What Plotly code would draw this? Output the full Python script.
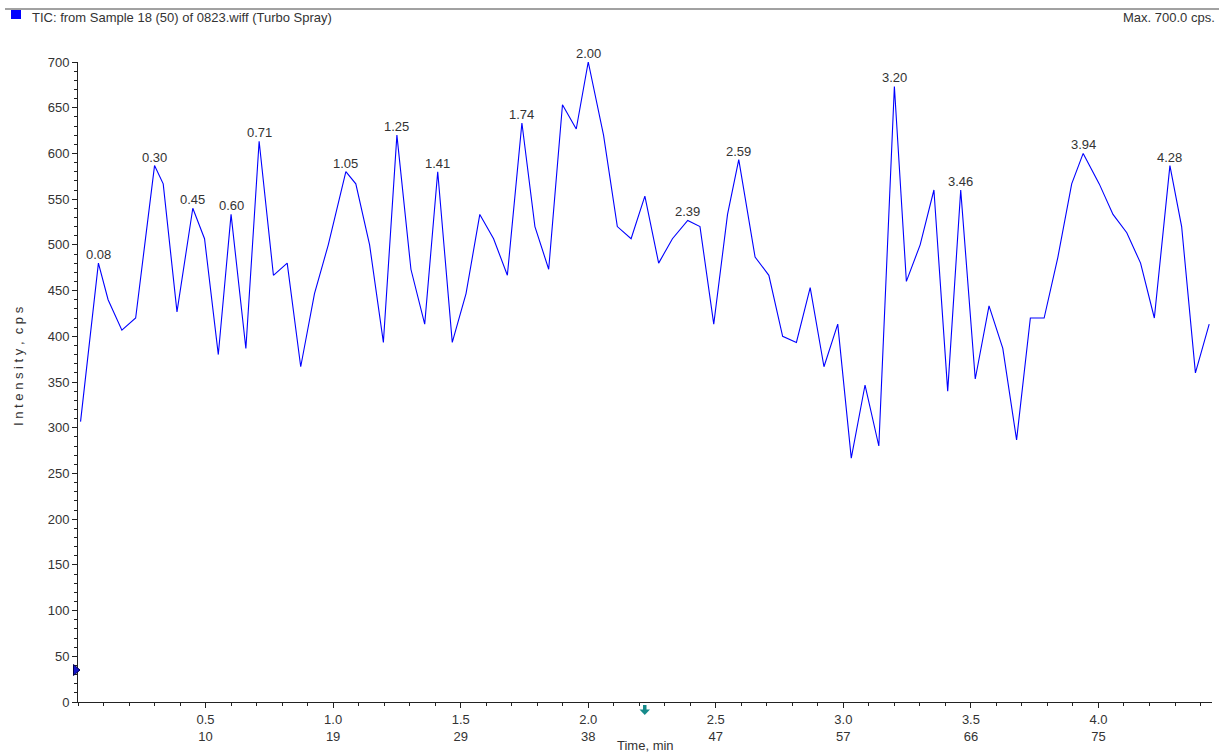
import plotly.graph_objects as go

# Total ion chromatogram (TIC), Sample 18 (50) of 0823.wiff, Turbo Spray
times_min = [
    0.010, 0.080, 0.118, 0.172, 0.226, 0.300, 0.334, 0.388, 0.450, 0.496,
    0.550, 0.600, 0.658, 0.710, 0.766, 0.820, 0.873, 0.927, 0.981, 1.050,
    1.089, 1.143, 1.197, 1.250, 1.305, 1.359, 1.410, 1.467, 1.521, 1.575,
    1.629, 1.683, 1.740, 1.791, 1.845, 1.899, 1.953, 2.000, 2.060, 2.114,
    2.168, 2.222, 2.276, 2.330, 2.390, 2.438, 2.492, 2.546, 2.590, 2.654,
    2.708, 2.762, 2.816, 2.870, 2.924, 2.978, 3.031, 3.085, 3.139, 3.200,
    3.247, 3.301, 3.355, 3.409, 3.460, 3.517, 3.571, 3.625, 3.679, 3.733,
    3.787, 3.841, 3.895, 3.940, 4.003, 4.057, 4.111, 4.165, 4.219, 4.280,
    4.326, 4.380, 4.434,
]

intensity_cps = [
    306.7, 480.0, 440.0, 406.7, 420.0, 586.7, 566.7, 426.7, 540.0, 506.7,
    380.0, 533.3, 386.7, 613.3, 466.7, 480.0, 366.7, 446.7, 500.0, 580.0,
    566.7, 500.0, 393.3, 620.0, 473.3, 413.3, 580.0, 393.3, 446.7, 533.3,
    506.7, 466.7, 633.3, 520.0, 473.3, 653.3, 626.7, 700.0, 620.0, 520.0,
    506.7, 553.3, 480.0, 506.7, 526.7, 520.0, 413.3, 533.3, 593.3, 486.7,
    466.7, 400.0, 393.3, 453.3, 366.7, 413.3, 266.7, 346.7, 280.0, 673.3,
    460.0, 500.0, 560.0, 340.0, 560.0, 353.3, 433.3, 386.7, 286.7, 420.0,
    420.0, 486.7, 566.7, 600.0, 566.7, 533.3, 513.3, 480.0, 420.0, 586.7,
    520.0, 360.0, 413.3,
]

# Retention times of the labelled peaks
peak_times = [0.08, 0.30, 0.45, 0.60, 0.71, 1.05, 1.25, 1.41, 1.74, 2.00,
              2.39, 2.59, 3.20, 3.46, 3.94, 4.28]

# Time-axis ticks with the matching scan numbers underneath
time_ticks = [0.5, 1.0, 1.5, 2.0, 2.5, 3.0, 3.5, 4.0]
scan_ticks = ["10", "19", "29", "38", "47", "57", "66", "75"]

title_text = "TIC: from Sample 18 (50) of 0823.wiff (Turbo Spray)"
max_text = "Max. 700.0 cps."

W, H = 1219, 753
ML, MR, MT, MB = 78, 7, 62, 51
PW, PH = W - ML - MR, H - MT - MB
FONT = "Liberation Sans, Arial, sans-serif"
FS = 13
AXIS_COLOR = "#222222"
TEXT_COLOR = "#333333"


def px(x):
    """Window pixel column -> paper x."""
    return (x - ML) / PW


def py(y):
    """Window pixel row -> paper y."""
    return (H - MB - y) / PH


fig = go.Figure()
fig.add_trace(go.Scatter(
    x=times_min, y=intensity_cps, mode="lines",
    line=dict(color="#0000ff", width=1.1),
    hoverinfo="x+y", showlegend=False,
))

annotations = []
for pt in peak_times:
    i = min(range(len(times_min)), key=lambda k: abs(times_min[k] - pt))
    annotations.append(dict(
        x=times_min[i], y=intensity_cps[i], xref="x", yref="y",
        text=f"{times_min[i]:.2f}", showarrow=False,
        yanchor="bottom", xanchor="center", yshift=-1,
        font=dict(family=FONT, size=FS, color=TEXT_COLOR),
    ))

annotations += [
    dict(x=px(30), y=py(17), xref="paper", yref="paper", text=title_text,
         showarrow=False, xanchor="left", yanchor="middle",
         font=dict(family=FONT, size=FS, color=TEXT_COLOR)),
    dict(x=px(1217), y=py(17), xref="paper", yref="paper", text=max_text,
         showarrow=False, xanchor="right", yanchor="middle",
         font=dict(family=FONT, size=FS, color=TEXT_COLOR)),
    dict(x=0.5, y=py(745), xref="paper", yref="paper", text="Time, min",
         showarrow=False, xanchor="center", yanchor="middle",
         font=dict(family=FONT, size=FS, color=TEXT_COLOR)),
    dict(x=px(18), y=py(366), xref="paper", yref="paper",
         text="I n t e n s i t y ,  c p s", textangle=-90,
         showarrow=False, xanchor="center", yanchor="middle",
         font=dict(family=FONT, size=FS, color=TEXT_COLOR)),
]

shapes = [
    # rule across the header
    dict(type="line", xref="paper", yref="paper",
         x0=px(5), x1=px(1219), y0=py(9), y1=py(9),
         line=dict(color="#444444", width=1)),
    # blue trace swatch
    dict(type="rect", xref="paper", yref="paper",
         x0=px(11), x1=px(21), y0=py(19), y1=py(10),
         fillcolor="#0000ff", line=dict(width=0)),
    # threshold marker on the intensity axis
    dict(type="path", xref="paper", yref="paper",
         path=f"M {px(73.5)},{py(664.5)} L {px(80)},{py(670)} L {px(73.5)},{py(675.5)} Z",
         fillcolor="#1414c8", line=dict(color="#000050", width=1)),
    # cursor arrow under the time axis
    dict(type="rect", xref="paper", yref="paper",
         x0=px(643), x1=px(646.5), y0=py(710), y1=py(705),
         fillcolor="#168a8a", line=dict(width=0)),
    dict(type="path", xref="paper", yref="paper",
         path=f"M {px(639.5)},{py(709.5)} L {px(650)},{py(709.5)} L {px(644.75)},{py(715)} Z",
         fillcolor="#168a8a", line=dict(width=0)),
]

fig.update_layout(
    width=W, height=H,
    margin=dict(l=ML, r=MR, t=MT, b=MB, pad=0),
    paper_bgcolor="white", plot_bgcolor="white",
    font=dict(family=FONT, size=FS, color=TEXT_COLOR),
    annotations=annotations, shapes=shapes,
    xaxis=dict(
        range=[0, 4.445], showgrid=False, zeroline=False,
        showline=True, linecolor=AXIS_COLOR, linewidth=1,
        tickmode="array", tickvals=time_ticks,
        ticktext=[f"{t:.1f}<br>{s}" for t, s in zip(time_ticks, scan_ticks)],
        ticks="outside", ticklen=5, tickcolor=AXIS_COLOR, tickwidth=1,
        minor=dict(dtick=0.1, tick0=0, ticks="outside", ticklen=3,
                   tickcolor=AXIS_COLOR, tickwidth=1, showgrid=False),
        tickfont=dict(family=FONT, size=FS, color=TEXT_COLOR),
        fixedrange=True,
    ),
    yaxis=dict(
        range=[0, 700], showgrid=False, zeroline=False,
        showline=True, linecolor=AXIS_COLOR, linewidth=1,
        tickmode="linear", tick0=0, dtick=50,
        ticks="outside", ticklen=5, tickcolor=AXIS_COLOR, tickwidth=1,
        minor=dict(dtick=10, tick0=0, ticks="outside", ticklen=3,
                   tickcolor=AXIS_COLOR, tickwidth=1, showgrid=False),
        tickfont=dict(family=FONT, size=FS, color=TEXT_COLOR),
        fixedrange=True,
    ),
)

fig.write_html("out.html", config={"displayModeBar": False})
